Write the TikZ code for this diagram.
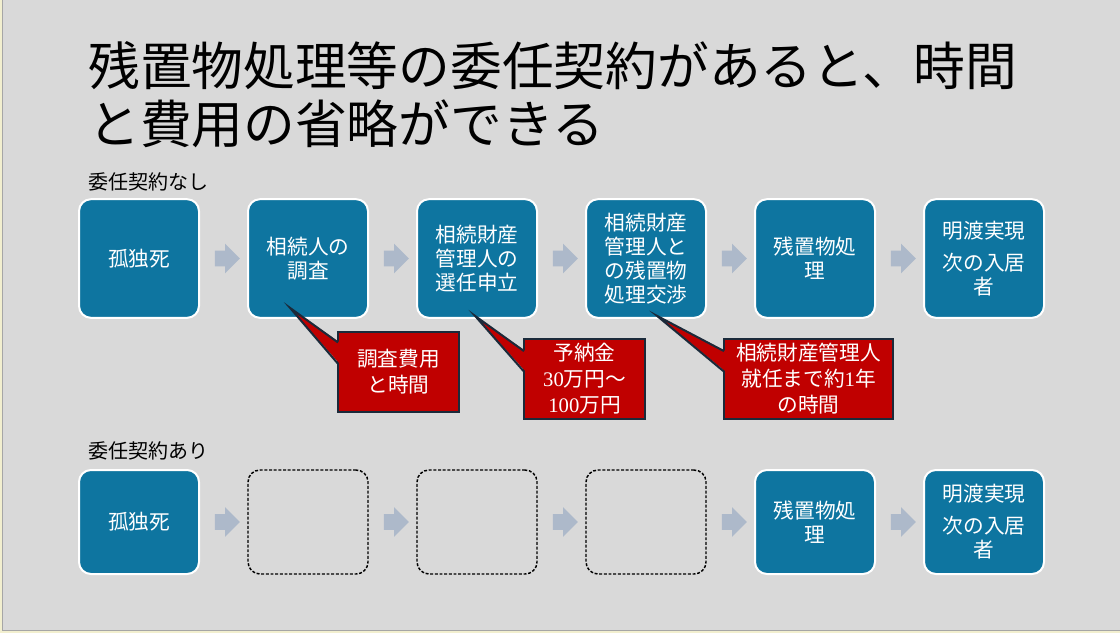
\documentclass[tikz,border=0pt]{standalone}
\usepackage{fontspec}
\setmainfont{Noto Sans CJK JP}
\newfontfamily\numfont{Liberation Serif}
\usepackage{tikz}
\usetikzlibrary{positioning,calc,shapes.arrows}

\definecolor{slidebg}{HTML}{D9D9D9}
\definecolor{slideedge}{HTML}{F2EFCF}
\definecolor{stepblue}{HTML}{0E75A0}
\definecolor{arrgray}{HTML}{ADB9CA}
\definecolor{notered}{HTML}{C00000}
\definecolor{noteline}{HTML}{1B2A3A}

\begin{document}
\begin{tikzpicture}[
      x=0.75pt, y=-0.75pt,
      stepbox/.style={draw=white, line width=1.5pt, fill=stepblue, rounded corners=9pt, text=white,
        align=center, minimum width=90pt, minimum height=89pt, inner sep=2pt,
        font=\fontsize{15.5}{18}\selectfont},
      lowbox/.style={stepbox, minimum height=78pt},
      emptybox/.style={draw=black, dash pattern=on 2.2pt off 1.3pt, line width=1.1pt, rounded corners=9pt,
        outer sep=0.75pt, minimum width=90pt, minimum height=78pt},
      blockarr/.style={single arrow, fill=arrgray, draw=none, minimum height=18.75pt,
        minimum width=21.75pt, inner xsep=0pt, inner ysep=5.625pt, single arrow head extend=5.25pt},
      note/.style={fill=notered, draw=noteline, line width=1.5pt, text=white,
        align=center, inner sep=2pt, minimum height=60pt, font=\fontsize{15.5}{19.5}\selectfont},
      wedgefill/.style={fill=notered},
      wedgeline/.style={draw=noteline, line width=1.5pt, line join=miter},
      lbl/.style={anchor=west, inner sep=0pt, font=\fontsize{15}{18}\selectfont}
    ]
    \useasboundingbox (0,0) rectangle (1120,633);
    % slide
    \fill[slideedge] (0,0) rectangle (1120,633);
    \fill[slidebg, draw=gray!70, line width=0.5pt] (2,-1) rectangle (1121,630);
    % title
    \node[anchor=north west, inner sep=0pt, align=left, font=\fontsize{38.8}{43.5}\selectfont] (title) at (88,41)
      {残置物処理等の委任契約があると、時間\\と費用の省略ができる};
    % without contract
    \node[lbl] (lblno) at (88,182) {委任契約なし};
    \node[stepbox] (b1) at (139,258.5) {孤独死};
    \node[stepbox, right=35.25pt of b1] (b2) {相続人の\\調査};
    \node[stepbox, right=35.25pt of b2] (b3) {相続財産\\管理人の\\選任申立};
    \node[stepbox, right=35.25pt of b3] (b4) {相続財産\\管理人と\\の残置物\\処理交渉};
    \node[stepbox, right=35.25pt of b4] (b5) {残置物処\\理};
    \node[stepbox, right=35.25pt of b5] (b6) {明渡実現\\[6pt]次の入居\\者};
    \node[blockarr] (a12) at ($(b1.east)!0.5!(b2.west)$) {};
    \node[blockarr] (a23) at ($(b2.east)!0.5!(b3.west)$) {};
    \node[blockarr] (a34) at ($(b3.east)!0.5!(b4.west)$) {};
    \node[blockarr] (a45) at ($(b4.east)!0.5!(b5.west)$) {};
    \node[blockarr] (a56) at ($(b5.east)!0.5!(b6.west)$) {};
    % costs
    \node[note, minimum width=90.75pt] (n1) at (398.5,372) {調査費用\\と時間};
    \node[note, minimum width=90.75pt] (n2) at (584.5,379) {予納金\\{\numfont 30}万円～\\{\numfont 100}万円};
    \node[note, minimum width=126.75pt] (n3) at (808.5,379) {相続財産管理人\\就任まで約{\numfont 1}年\\の時間};
    \coordinate (tip1) at ($(b2.south)+(-18,-11)$);
    \coordinate (tip2) at ($(b3.south)+(-2,-3)$);
    \coordinate (tip3) at ($(b4.south)+(11,-3)$);
    % callout wedges
    \fill[wedgefill] (tip1) -- ($(n1.north west)!0.14!(n1.south west)+(2pt,0)$) -- ($(n1.north west)!0.4!(n1.south west)+(2pt,0)$) -- cycle;
    \draw[wedgeline] ($(n1.north west)!0.14!(n1.south west)+(0.75pt,0)$) -- (tip1) -- ($(n1.north west)!0.4!(n1.south west)+(0.75pt,0)$);
    \fill[wedgefill] (tip2) -- ($(n2.north west)!0.16!(n2.south west)+(2pt,0)$) -- ($(n2.north west)!0.41!(n2.south west)+(2pt,0)$) -- cycle;
    \draw[wedgeline] ($(n2.north west)!0.16!(n2.south west)+(0.75pt,0)$) -- (tip2) -- ($(n2.north west)!0.41!(n2.south west)+(0.75pt,0)$);
    \fill[wedgefill] (tip3) -- ($(n3.north west)!0.16!(n3.south west)+(2pt,0)$) -- ($(n3.north west)!0.41!(n3.south west)+(2pt,0)$) -- cycle;
    \draw[wedgeline] ($(n3.north west)!0.16!(n3.south west)+(0.75pt,0)$) -- (tip3) -- ($(n3.north west)!0.41!(n3.south west)+(0.75pt,0)$);
    % with contract
    \node[lbl] (lblyes) at (88,451) {委任契約あり};
    \node[lowbox] (r1) at (139,522) {孤独死};
    \node[emptybox, right=35.25pt of r1] (r2) {};
    \node[emptybox, right=35.25pt of r2] (r3) {};
    \node[emptybox, right=35.25pt of r3] (r4) {};
    \node[lowbox, right=35.25pt of r4] (r5) {残置物処\\理};
    \node[lowbox, right=35.25pt of r5] (r6) {明渡実現\\[6pt]次の入居\\者};
    \node[blockarr] (q12) at ($(r1.east)!0.5!(r2.west)$) {};
    \node[blockarr] (q23) at ($(r2.east)!0.5!(r3.west)$) {};
    \node[blockarr] (q34) at ($(r3.east)!0.5!(r4.west)$) {};
    \node[blockarr] (q45) at ($(r4.east)!0.5!(r5.west)$) {};
    \node[blockarr] (q56) at ($(r5.east)!0.5!(r6.west)$) {};
  \end{tikzpicture}
\end{document}
